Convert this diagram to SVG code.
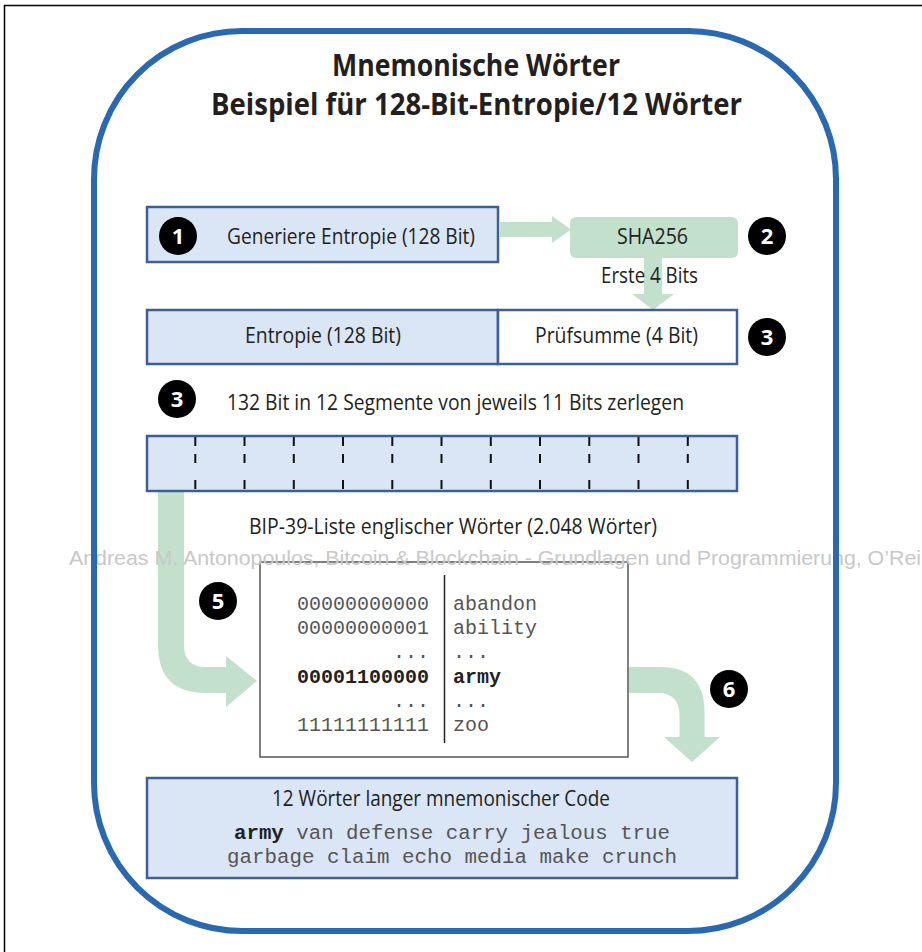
<svg xmlns="http://www.w3.org/2000/svg" width="922" height="952" viewBox="0 0 922 952">
<style>
.sans{font-family:"Liberation Sans Narrow","Open Sans","Liberation Sans",sans-serif;fill:#231f20;}
.title{font-size:30px;font-weight:bold;}
.lbl{font-size:21px;}
.mono{font-family:"Liberation Mono","DejaVu Sans Mono",monospace;font-size:20px;fill:#555;}
.monob{font-family:"Liberation Mono","DejaVu Sans Mono",monospace;font-size:20px;font-weight:bold;fill:#222;}
.box{fill:#dae6f5;stroke:#3d5d9c;stroke-width:2.5;}
.wbox{fill:#fff;stroke:#3d5d9c;stroke-width:2.5;}
.green{fill:#c2e0cc;stroke:none;}
.badge circle{fill:#000;}
.badge text{font-family:"Liberation Sans Narrow","Open Sans","Liberation Sans",sans-serif;font-weight:bold;font-size:22px;fill:#fff;text-anchor:middle;}
.dash{stroke:#111;stroke-width:2;fill:none;}
</style>

<!-- outer page frame -->
<path d="M4.5,952 V5.5 H922" fill="none" stroke="#000" stroke-width="1.5"/>

<!-- title -->
<g id="title">
<text class="sans title" x="332" y="76" textLength="288" lengthAdjust="spacingAndGlyphs">Mnemonische Wörter</text>
<text class="sans title" x="211" y="115" textLength="531" lengthAdjust="spacingAndGlyphs">Beispiel für 128-Bit-Entropie/12 Wörter</text>
</g>

<!-- connectors -->
<g id="connectors">
<polygon class="green" points="500,222 552,222 552,216 571,229.5 552,243 552,237 500,237"/>
<polygon class="green" points="644,257 662,257 662,294 674,294 653,310 632,294 644,294"/>
<path class="green" d="M158,492 V645 Q158,693 206,693 H226 V707 L257,681 L226,656 V667 H206 Q184,667 184,645 V492 Z"/>
<path class="green" d="M629,667 H660 Q704.5,667 704.5,712 V737 H720 L692,762 L664,737 H679.5 V716 Q679.5,693 658,693 H629 Z"/>
</g>

<g id="node-entropy-gen">
<rect class="box" x="147" y="207" width="351" height="55"/>
<text class="sans lbl" x="227" y="244" textLength="248" lengthAdjust="spacingAndGlyphs">Generiere Entropie (128 Bit)</text>
</g>

<g id="node-sha256">
<rect class="green" x="570" y="217" width="168" height="41" rx="6"/>
<text class="sans lbl" x="617" y="244" textLength="71" lengthAdjust="spacingAndGlyphs">SHA256</text>
</g>

<g id="label-erste">
<text class="sans lbl" x="601" y="283" textLength="97" lengthAdjust="spacingAndGlyphs">Erste 4 Bits</text>
</g>

<g id="node-entropy">
<rect class="box" x="147" y="310" width="351" height="54"/>
<text class="sans lbl" x="245" y="343" textLength="156" lengthAdjust="spacingAndGlyphs">Entropie (128 Bit)</text>
</g>

<g id="node-checksum">
<rect class="wbox" x="498" y="310" width="239" height="54"/>
<text class="sans lbl" x="535" y="343" textLength="163" lengthAdjust="spacingAndGlyphs">Prüfsumme (4 Bit)</text>
</g>

<g id="label-split">
<text class="sans lbl" x="227" y="410" textLength="457" lengthAdjust="spacingAndGlyphs">132 Bit in 12 Segmente von jeweils 11 Bits zerlegen</text>
</g>

<g id="node-segments">
<rect class="box" x="147" y="436" width="590" height="55"/>
<path class="dash" d="M195.3,437v9m0,8v9m0,17v9 M244.5,437v9m0,8v9m0,17v9 M293.8,437v9m0,8v9m0,17v9 M343,437v9m0,8v9m0,17v9 M392.3,437v9m0,8v9m0,17v9 M441.5,437v9m0,8v9m0,17v9 M490.8,437v9m0,8v9m0,17v9 M540,437v9m0,8v9m0,17v9 M589.3,437v9m0,8v9m0,17v9 M638.5,437v9m0,8v9m0,17v9 M687.8,437v9m0,8v9m0,17v9"/>
</g>

<g id="label-bip39">
<text class="sans lbl" x="249" y="534" textLength="408" lengthAdjust="spacingAndGlyphs">BIP-39-Liste englischer Wörter (2.048 Wörter)</text>
</g>

<g id="node-wordlist">
<rect x="260" y="562" width="368" height="195" fill="#fff" stroke="#555" stroke-width="1.5"/>
<line x1="444.5" y1="575" x2="444.5" y2="743" stroke="#222" stroke-width="1.5"/>
<g text-anchor="end">
<text class="mono" x="429" y="610">00000000000</text>
<text class="mono" x="429" y="634">00000000001</text>
<text class="mono" x="429" y="658">...</text>
<text class="monob" x="429" y="683">00001100000</text>
<text class="mono" x="429" y="707">...</text>
<text class="mono" x="429" y="731">11111111111</text>
</g>
<text class="mono" x="453" y="610">abandon</text>
<text class="mono" x="453" y="634">ability</text>
<text class="mono" x="453" y="658">...</text>
<text class="monob" x="453" y="683">army</text>
<text class="mono" x="453" y="707">...</text>
<text class="mono" x="453" y="731">zoo</text>
</g>

<g id="node-mnemonic">
<rect class="box" x="147" y="778" width="590" height="100"/>
<text class="sans lbl" x="272" y="806" textLength="338" lengthAdjust="spacingAndGlyphs">12 Wörter langer mnemonischer Code</text>
<text class="mono" x="234" y="839" textLength="436" lengthAdjust="spacingAndGlyphs"><tspan class="monob">army</tspan> van defense carry jealous true</text>
<text class="mono" x="227" y="863" textLength="450" lengthAdjust="spacingAndGlyphs">garbage claim echo media make crunch</text>
</g>

<g id="badges" class="badge">
<g id="badge-1"><circle cx="178" cy="236" r="19"/><text x="178" y="244">1</text></g>
<g id="badge-2"><circle cx="767" cy="236" r="19"/><text x="767" y="244">2</text></g>
<g id="badge-3a"><circle cx="767" cy="337" r="19"/><text x="767" y="345">3</text></g>
<g id="badge-3b"><circle cx="177" cy="399" r="19"/><text x="177" y="407">3</text></g>
<g id="badge-5"><circle cx="218" cy="601" r="19"/><text x="218" y="609">5</text></g>
<g id="badge-6"><circle cx="729" cy="689" r="19"/><text x="729" y="697">6</text></g>
</g>

<text x="69" y="565" font-family="Liberation Sans, Arial, sans-serif" font-size="20" fill="#c8c8c8" textLength="852" lengthAdjust="spacingAndGlyphs">Andreas M. Antonopoulos, Bitcoin &amp; Blockchain - Grundlagen und Programmierung, O’Rei</text>

<!-- blue rounded frame -->
<rect x="94" y="31" width="742" height="900" rx="148" ry="148" fill="none" stroke="#2a69b0" stroke-width="6"/>
</svg>
